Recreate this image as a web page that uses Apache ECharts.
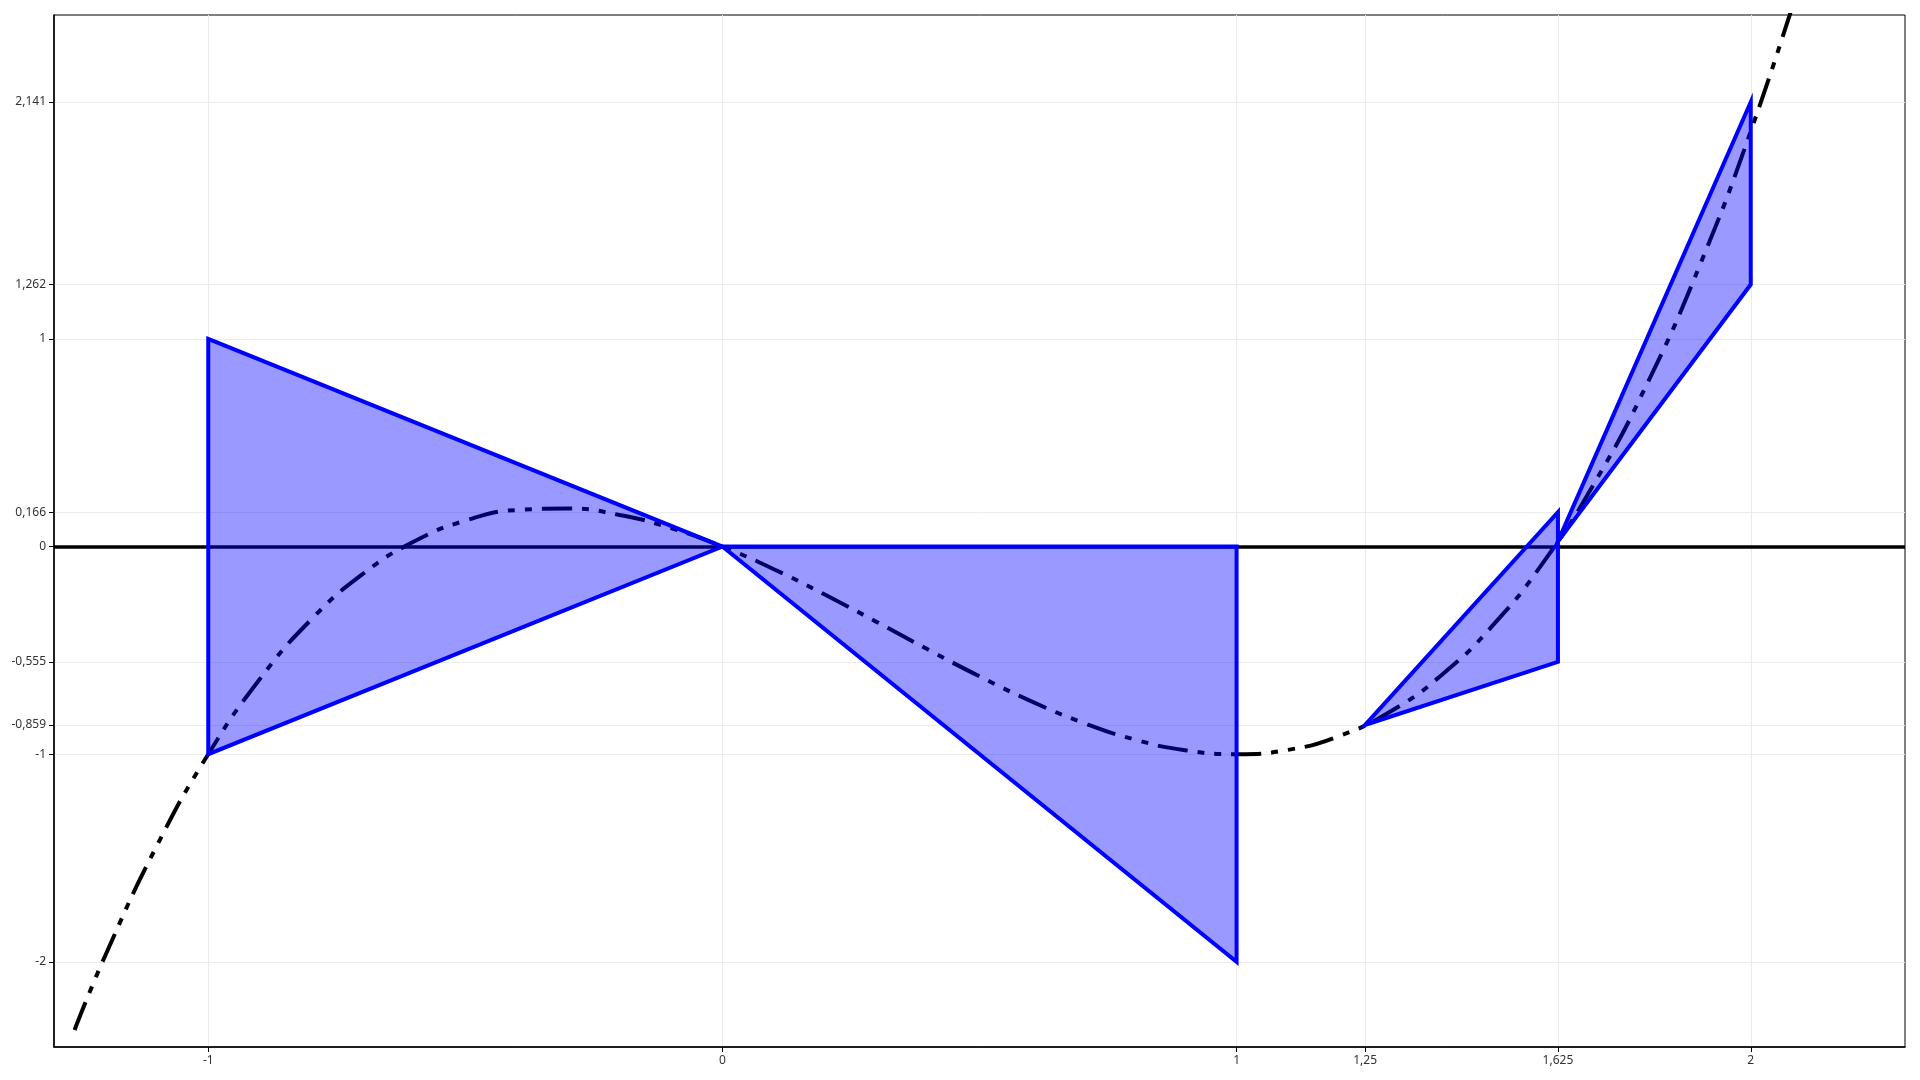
<!DOCTYPE html>
<html>
<head>
<meta charset="utf-8">
<script src="https://cdn.jsdelivr.net/npm/echarts@6/dist/echarts.min.js"></script>
<style>
  html, body { margin: 0; padding: 0; background: #fff; }
  #chart { width: 1920px; height: 1080px; }
</style>
</head>
<body>
<div id="chart"></div>
<script>
// tick positions shown on the axes
const xTicks = [-1, 0, 1, 1.25, 1.625, 2];
const yTicks = [-2, -1, -0.859, -0.555, 0, 0.166, 1, 1.262, 2.141];

// curve
const curveX = [-1.26, -1.2, -1.1, -1.0, -0.9, -0.8, -0.7, -0.6, -0.5, -0.4, -0.3, -0.2, -0.1, 0,
  0.1, 0.2, 0.3, 0.4, 0.5, 0.6, 0.7, 0.8, 0.9, 1.0, 1.1, 1.2, 1.3, 1.4, 1.5, 1.6, 1.7, 1.8, 1.9, 2.0, 2.1];
const curveY = [-2.328, -1.968, -1.441, -1.0, -0.639, -0.352, -0.133, 0.024, 0.125, 0.176, 0.183, 0.152, 0.089, 0,
  -0.109, -0.232, -0.363, -0.496, -0.625, -0.744, -0.847, -0.928, -0.981, -1.0, -0.979, -0.912, -0.793, -0.616, -0.375, -0.064, 0.323, 0.792, 1.349, 2.0, 2.751];

// blue triangles, three corners each
const triX = [[-1, 0, -1], [0, 1, 1], [1.25, 1.625, 1.625], [1.625, 2, 2]];
const triY = [[1, 0, -1], [0, 0, -2], [-0.859, 0.166, -0.555], [0.025, 2.141, 1.262]];

const fmt = v => String(v).replace('.', ',');

const chart = echarts.init(document.getElementById('chart'));

const curveData = curveX.map((x, i) => [x, curveY[i]]);
const triData = triX.map((xs, i) => [xs[0], triY[i][0], xs[1], triY[i][1], xs[2], triY[i][2]]);

const option = {
  animation: false,
  grid: {
    left: 54, right: 15, top: 15, bottom: 33,
    show: true, borderColor: '#000', borderWidth: 1
  },
  xAxis: {
    type: 'value',
    min: -1.3, max: 2.3,
    axisLine: { onZero: false, lineStyle: { color: '#000', width: 1.5 } },
    axisTick: { customValues: xTicks, length: 5, lineStyle: { color: '#000' } },
    axisLabel: { customValues: xTicks, formatter: fmt, color: '#333', fontSize: 12, margin: 8, fontFamily: 'Noto Sans' },
    splitLine: { show: true, lineStyle: { color: '#ebebeb', width: 1 } }
  },
  yAxis: {
    type: 'value',
    min: -2.41, max: 2.56,
    axisLine: { onZero: false, lineStyle: { color: '#000', width: 1.5 } },
    axisTick: { customValues: yTicks, length: 5, lineStyle: { color: '#000' } },
    axisLabel: { customValues: yTicks, formatter: fmt, color: '#333', fontSize: 12, margin: 8, fontFamily: 'Noto Sans' },
    splitLine: { show: true, lineStyle: { color: '#ebebeb', width: 1 } }
  },
  series: [
    {
      type: 'line',
      data: curveData,
      smooth: true,
      symbol: 'none',
      z: 2,
      lineStyle: { color: '#000', width: 4, type: [30, 10, 7, 10, 7, 10], cap: 'butt' },
      markLine: {
        silent: true,
        symbol: 'none',
        label: { show: false },
        lineStyle: { color: '#000', width: 3.5, type: 'solid' },
        data: [{ yAxis: 0 }]
      }
    },
    {
      type: 'custom',
      z: 5,
      data: triData,
      renderItem: function (params, api) {
        const pts = [0, 1, 2].map(j => api.coord([api.value(j * 2), api.value(j * 2 + 1)]));
        return {
          type: 'polygon',
          shape: { points: pts },
          style: { fill: 'rgba(0,0,255,0.4)', stroke: '#0000ff', lineWidth: 4, lineJoin: 'miter' }
        };
      }
    }
  ]
};

chart.setOption(option);
</script>
</body>
</html>
